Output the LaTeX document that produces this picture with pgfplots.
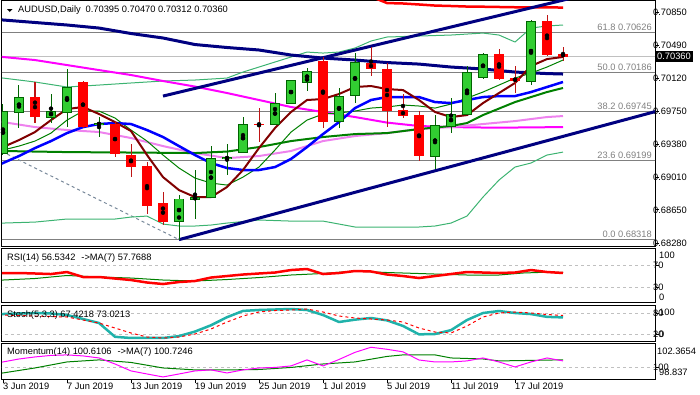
\documentclass[border=0pt]{standalone}
\usepackage{fontspec}
\setmainfont{Liberation Sans}
\usepackage{pgfplots}
\usepackage{pgfplotstable}
\pgfplotsset{compat=1.18}
\definecolor{bullfill}{RGB}{50,205,50}
\definecolor{bulldark}{RGB}{0,100,0}
\definecolor{bearfill}{RGB}{255,0,0}
\definecolor{bearwick}{RGB}{190,20,20}
\definecolor{navyc}{RGB}{0,0,128}
\definecolor{magc}{RGB}{255,0,255}
\definecolor{violetc}{RGB}{238,130,238}
\definecolor{bluec}{RGB}{0,0,255}
\definecolor{maroonc}{RGB}{128,0,0}
\definecolor{greenc}{RGB}{0,128,0}
\definecolor{seagreen}{RGB}{60,179,113}
\definecolor{tealc}{RGB}{32,178,170}
\definecolor{fibgray}{RGB}{128,128,128}
\definecolor{slatec}{RGB}{119,136,153}
\definecolor{silverc}{RGB}{192,192,192}
\newcommand{\tl}{\fontsize{9.3}{11}\selectfont}

\pgfplotstableread{
i o h l c
0 0.69284 0.69831 0.69262 0.69742
1 0.69742 0.70043 0.69563 0.69909
3 0.69686 0.69943 0.69619 0.69753
4 0.69742 0.70222 0.69574 0.70021
6 0.69602 0.69686 0.69463 0.69619
11 0.68525 0.68815 0.68318 0.68771
12 0.68771 0.69095 0.68548 0.68793
13 0.68793 0.69362 0.68782 0.69228
14 0.69223 0.69385 0.69039 0.69234
15 0.69295 0.69686 0.69284 0.69608
17 0.69608 0.69954 0.69597 0.69842
18 0.69842 0.70099 0.69831 0.70088
19 0.70077 0.70233 0.69976 0.70199
21 0.69641 0.70010 0.69563 0.69920
22 0.69931 0.70400 0.69842 0.70300
27 0.69251 0.69708 0.69106 0.69597
28 0.69586 0.69898 0.69507 0.69720
29 0.69720 0.70255 0.69708 0.70188
30 0.70132 0.70400 0.70110 0.70389
33 0.70088 0.70768 0.70043 0.70757
}\bull

\pgfplotstableread{
i o h l c
2 0.69909 0.70077 0.69619 0.69686
5 0.70077 0.70088 0.69563 0.69574
7 0.69608 0.69641 0.69240 0.69273
8 0.69262 0.69385 0.69016 0.69128
9 0.69139 0.69184 0.68603 0.68693
10 0.68726 0.68849 0.68481 0.68514
16 0.69613 0.69786 0.69407 0.69602
20 0.70311 0.70356 0.69563 0.69630
23 0.70289 0.70467 0.70144 0.70222
24 0.70222 0.70289 0.69574 0.69753
25 0.69764 0.69943 0.69675 0.69697
26 0.69708 0.69753 0.69195 0.69251
31 0.70389 0.70445 0.70105 0.70110
32 0.70121 0.70255 0.69954 0.70088
34 0.70757 0.70824 0.70367 0.70378
35 0.70395 0.70470 0.70312 0.70360
}\bear

\pgfplotsset{
  mtaxis/.style={scale only axis, width=653pt, xmin=-0.0625, xmax=40.75,
    axis line style={line width=1pt, black}, xtick=\empty,
    ytick pos=right, ytick align=outside, major tick length=4pt,
    tick style={black, line width=0.8pt},
    yticklabel style={font=\tl, anchor=west, inner sep=0pt, xshift=-6pt},
    /pgf/number format/assume math mode=true,
    scaled y ticks=false,
    every axis plot/.append style={line join=round},
    clip=true},
}

\begin{document}
\begin{tikzpicture}[x=1pt,y=1pt]
\useasboundingbox (0,0) rectangle (700,-394);

% ---------------- main price panel ----------------
\begin{axis}[mtaxis, height=246pt, at={(2pt,-246pt)}, anchor=south west,
  ymin=0.68247, ymax=0.70992,
  ytick={0.6828,0.6865,0.6901,0.6938,0.6975,0.7012,0.7049},
  extra y ticks={0.7085},
  yticklabel={\pgfmathprintnumber[fixed,precision=5,zerofill]{\tick}},
  extra y tick style={yticklabel={\pgfmathprintnumber[fixed,precision=5,zerofill]{\tick}}},
]
% fibonacci levels and current price line
\addplot[fibgray, line width=1pt, forget plot] coordinates {(-1,0.70626) (41,0.70626)};
\addplot[fibgray, line width=1pt, forget plot] coordinates {(-1,0.70186) (41,0.70186)};
\addplot[fibgray, line width=1pt, forget plot] coordinates {(-1,0.69745) (41,0.69745)};
\addplot[fibgray, line width=1pt, forget plot] coordinates {(-1,0.69199) (41,0.69199)};
\addplot[fibgray, line width=1pt, forget plot] coordinates {(-1,0.68318) (41,0.68318)};
\addplot[silverc, line width=1pt, forget plot] coordinates {(-1,0.70360) (41,0.70360)};
\addplot[slatec, line width=1pt, dash pattern=on 3pt off 3pt, forget plot] coordinates {(-0.0625,0.69301) (11,0.68318)};
% bands
\addplot[seagreen, line width=1pt] coordinates {(-1,0.70140)(0,0.70121)(2,0.70077)(4,0.70021)(6,0.70043)(8,0.70066)(10,0.70088)(12,0.70099)(14,0.70121)(15,0.70188)(16,0.70244)(17,0.70300)(18,0.70356)(19,0.70411)(20,0.70400)(21,0.70411)(22,0.70456)(23,0.70534)(24,0.70579)(26,0.70590)(28,0.70601)(30,0.70623)(31,0.70601)(32,0.70523)(33,0.70679)(34,0.70702)(35,0.70713)};
\addplot[seagreen, line width=1pt] coordinates {(-1,0.68503)(0,0.68503)(2,0.68514)(4,0.68548)(7,0.68548)(8,0.68570)(9,0.68581)(10,0.68492)(11,0.68470)(12,0.68470)(13,0.68481)(14,0.68503)(16,0.68537)(18,0.68525)(20,0.68525)(22,0.68459)(26,0.68459)(27,0.68470)(28,0.68503)(29,0.68581)(30,0.68793)(31,0.68983)(32,0.69128)(33,0.69173)(34,0.69262)(35,0.69295)};
% moving averages
\addplot[bearfill, line width=2.5pt] coordinates {(23,0.71030)(24,0.70958)(25,0.70953)(26,0.70942)(27,0.70930)(28,0.70925)(29,0.70919)(30,0.70917)(31,0.70914)(32,0.70911)(35,0.70908)};
\addplot[navyc, line width=3pt] coordinates {(-1,0.70783)(0,0.70769)(2,0.70741)(4,0.70713)(6,0.70679)(8,0.70618)(10,0.70568)(12,0.70495)(14,0.70462)(16,0.70434)(18,0.70378)(20,0.70344)(22,0.70322)(24,0.70294)(26,0.70277)(28,0.70244)(30,0.70222)(32,0.70188)(34,0.70171)(35,0.70166)};
\addplot[magc, line width=2pt] coordinates {(-1,0.70384)(0,0.70356)(2,0.70322)(4,0.70266)(6,0.70210)(8,0.70155)(10,0.70088)(12,0.70026)(14,0.69954)(16,0.69876)(18,0.69798)(20,0.69742)(22,0.69686)(24,0.69624)(26,0.69586)(28,0.69574)(30,0.69569)(32,0.69569)(35,0.69574)};
\addplot[violetc, line width=2pt] coordinates {(-1,0.69652)(0,0.69630)(2,0.69574)(4,0.69541)(6,0.69519)(8,0.69452)(10,0.69362)(12,0.69284)(14,0.69228)(16,0.69251)(18,0.69307)(20,0.69418)(22,0.69474)(24,0.69507)(26,0.69552)(28,0.69574)(30,0.69608)(32,0.69641)(34,0.69686)(35,0.69697)};
\addplot[greenc, line width=2pt] coordinates {(-1,0.69307)(0,0.69307)(4,0.69295)(8,0.69290)(12,0.69284)(14,0.69301)(16,0.69351)(18,0.69418)(20,0.69463)(22,0.69496)(24,0.69507)(26,0.69552)(28,0.69586)(29,0.69619)(30,0.69708)(32,0.69853)(34,0.69965)(35,0.70010)};
\addplot[greenc, line width=1pt] coordinates {(-1,0.69290)(0,0.69318)(1,0.69362)(2,0.69418)(3,0.69507)(4,0.69652)(5,0.69753)(6,0.69753)(7,0.69675)(8,0.69541)(9,0.69418)(10,0.69262)(11,0.69117)(12,0.69005)(13,0.68949)(14,0.68927)(15,0.69016)(16,0.69128)(17,0.69318)(18,0.69518)(19,0.69652)(20,0.69719)(21,0.69731)(22,0.69753)(23,0.69786)(24,0.69798)(25,0.69820)(26,0.69809)(27,0.69786)(28,0.69831)(29,0.69898)(30,0.69965)(31,0.70043)(32,0.70121)(33,0.70177)(34,0.70244)(35,0.70322)};
\addplot[bluec, line width=2.5pt] coordinates {(-1,0.69090)(0,0.69173)(1,0.69251)(2,0.69340)(3,0.69418)(4,0.69507)(5,0.69574)(6,0.69608)(7,0.69619)(8,0.69608)(9,0.69541)(10,0.69463)(11,0.69362)(12,0.69262)(13,0.69173)(14,0.69117)(15,0.69095)(16,0.69095)(17,0.69128)(18,0.69218)(19,0.69351)(20,0.69496)(21,0.69630)(22,0.69786)(23,0.69876)(24,0.69909)(25,0.69909)(26,0.69909)(27,0.69853)(28,0.69842)(29,0.69876)(30,0.69909)(31,0.69920)(32,0.69920)(33,0.69965)(34,0.70021)(35,0.70077)};
\addplot[maroonc, line width=2pt] coordinates {(-1,0.69270)(0,0.69351)(1,0.69429)(2,0.69519)(3,0.69652)(4,0.69775)(5,0.69798)(6,0.69720)(7,0.69630)(8,0.69530)(9,0.69262)(10,0.69016)(11,0.68871)(12,0.68793)(13,0.68793)(14,0.68905)(15,0.69095)(16,0.69340)(17,0.69563)(18,0.69742)(19,0.69876)(20,0.69887)(21,0.69943)(22,0.70021)(23,0.70032)(24,0.69998)(25,0.69987)(26,0.69876)(27,0.69742)(28,0.69686)(29,0.69708)(30,0.69842)(31,0.69954)(32,0.70066)(33,0.70255)(34,0.70333)(35,0.70356)};
% trend channel
\addplot[navyc, line width=3pt] coordinates {(10,0.69920) (36,0.71033)};
\addplot[navyc, line width=3pt] coordinates {(11,0.68318) (41,0.69758)};
% candles: wicks
\addplot[only marks, mark=none, forget plot, error bars/.cd, y dir=both, y explicit, error mark=none,
  error bar style={line width=1pt, color=bulldark}]
  table[x=i, y expr={(\thisrow{h}+\thisrow{l})/2}, y error expr={(\thisrow{h}-\thisrow{l})/2}]{\bull};
\addplot[only marks, mark=none, forget plot, error bars/.cd, y dir=both, y explicit, error mark=none,
  error bar style={line width=1pt, color=bearwick}]
  table[x=i, y expr={(\thisrow{h}+\thisrow{l})/2}, y error expr={(\thisrow{h}-\thisrow{l})/2}]{\bear};
% candles: bodies
\addplot[only marks, mark=none, forget plot, error bars/.cd, y dir=both, y explicit, error mark=none,
  error bar style={line width=10.5pt, color=bulldark}]
  table[x=i, y expr={(\thisrow{o}+\thisrow{c})/2}, y error expr={abs(\thisrow{c}-\thisrow{o})/2+0.00006}]{\bull};
\addplot[only marks, mark=none, forget plot, error bars/.cd, y dir=both, y explicit, error mark=none,
  error bar style={line width=8.5pt, color=bullfill}]
  table[x=i, y expr={(\thisrow{o}+\thisrow{c})/2}, y error expr={max(abs(\thisrow{c}-\thisrow{o})/2-0.00005,0)}]{\bull};
\addplot[only marks, mark=none, forget plot, error bars/.cd, y dir=both, y explicit, error mark=none,
  error bar style={line width=10.5pt, color=bearfill}]
  table[x=i, y expr={(\thisrow{o}+\thisrow{c})/2}, y error expr={max(abs(\thisrow{c}-\thisrow{o})/2,0.00006)}]{\bear};
% fibonacci labels
\node[font=\tl, text=fibgray, anchor=base east, inner sep=0pt] at (axis cs:40.56,0.70649) {61.8 0.70626};
\node[font=\tl, text=fibgray, anchor=base east, inner sep=0pt] at (axis cs:40.56,0.70209) {50.0 0.70186};
\node[font=\tl, text=fibgray, anchor=base east, inner sep=0pt] at (axis cs:40.56,0.69768) {38.2 0.69745};
\node[font=\tl, text=fibgray, anchor=base east, inner sep=0pt] at (axis cs:40.56,0.69222) {23.6 0.69199};
\node[font=\tl, text=fibgray, anchor=base east, inner sep=0pt] at (axis cs:40.56,0.68341) {0.0 0.68318};
\end{axis}

% ---------------- RSI ----------------
\begin{axis}[mtaxis, height=54pt, at={(2pt,-302pt)}, anchor=south west,
  ymin=2.8, ymax=102.8, ytick={30,70}]
\addplot[silverc, line width=1pt, dash pattern=on 3pt off 3pt] coordinates {(-1,70)(41,70)};
\addplot[silverc, line width=1pt, dash pattern=on 3pt off 3pt] coordinates {(-1,30)(41,30)};
\addplot[greenc, line width=1pt] coordinates {(-1,42)(0,43.5)(2,46.3)(4,51.9)(6,49.1)(8,47.2)(10,43.5)(12,41.7)(14,44.4)(16,48.1)(18,52.8)(20,55.6)(22,60.2)(24,57.4)(25,56.5)(27,54.6)(29,52.8)(31,52.8)(32.5,56.5)(34,58.0)(35,57.77)};
\addplot[bearfill, line width=2.5pt] coordinates {(-1,56.5)(0,56.5)(1,56.5)(2,55.6)(3,54.6)(4,58.3)(5,49.1)(6,49.1)(7,46.3)(8,43.5)(9,38.9)(10,36.1)(11,39.8)(12,41.7)(13,48.1)(14,50.9)(15,53.7)(16,55.6)(17,57.4)(18,62.0)(19,63.9)(20,54.6)(21,56.5)(22,60.2)(23,59.3)(24,53.7)(25,50.9)(26,47.2)(27,50.9)(28,54.6)(29,58.3)(30,57.4)(31,56.5)(32,57.4)(33,62.0)(34,58.3)(35,56.53)};
\end{axis}

% ---------------- Stochastic ----------------
\begin{axis}[mtaxis, height=36pt, at={(2pt,-341pt)}, anchor=south west,
  ymin=0, ymax=102.86, ytick={20,80}]
\addplot[silverc, line width=1pt, dash pattern=on 3pt off 3pt] coordinates {(-1,80)(41,80)};
\addplot[silverc, line width=1pt, dash pattern=on 3pt off 3pt] coordinates {(-1,20)(41,20)};
\addplot[tealc, line width=2.5pt] coordinates {(-1,76)(0,77.1)(1,78.6)(2,80)(3,78.6)(4,74.3)(5,62.9)(6,51.4)(7,12)(8,8.6)(9,8.6)(10,8.6)(11,14)(12,27)(13,45)(14,68)(15,86)(16,88.6)(17,90)(18,91.4)(19,88.6)(20,74.3)(21,54.3)(22,61)(23,65.7)(24,59)(25,43)(26,19)(27,20)(28,31)(29,60)(30,80)(31,85.7)(32,80)(33,77)(34,69)(35,67.42)};
\addplot[bearfill, line width=1pt, dash pattern=on 3pt off 3pt] coordinates {(-1,75)(0,74.3)(2,71.4)(4,68.6)(6,51.4)(7,37.1)(8,22.9)(9,11.4)(10,8.6)(11,11.4)(12,20)(13,34.3)(14,54.3)(15,71.4)(16,82.9)(17,87.1)(18,88.6)(19,91.4)(20,82.9)(21,71.4)(22,65.7)(23,62.9)(24,60)(25,54.3)(26,37.1)(27,25.7)(28,22.9)(29,42.9)(30,68.6)(31,80)(32,82.9)(33,80)(34,75.7)(35,73.02)};
\end{axis}

% ---------------- Momentum ----------------
\begin{axis}[mtaxis, height=36pt, at={(2pt,-379pt)}, anchor=south west,
  ymin=98.837, ymax=102.3654, ytick={100},
  xtick={0,4,8,12,16,20,24,28,32},
  xticklabels={3 Jun 2019,7 Jun 2019,13 Jun 2019,19 Jun 2019,25 Jun 2019,1 Jul 2019,5 Jul 2019,11 Jul 2019,17 Jul 2019},
  xtick pos=left, xtick align=outside,
  xticklabel style={font=\tl, anchor=north west, inner sep=0pt, xshift=0pt}]
\addplot[silverc, line width=1pt, dash pattern=on 3pt off 3pt] coordinates {(-1,100)(41,100)};
\addplot[greenc, line width=1pt] coordinates {(-1,99.3)(0,99.43)(2,99.92)(4,100.51)(6,100.71)(8,100.46)(10,99.92)(12,99.73)(14,99.73)(16,99.77)(18,99.97)(20,100.31)(22,100.51)(24,101.05)(25,101.2)(27,101.20)(28,100.90)(30,100.80)(31,100.61)(33,100.66)(35,100.72)};
\addplot[magc, line width=1pt] coordinates {(-1,100.3)(0,100.51)(1,100.80)(2,101.00)(3,101.15)(4,101.20)(5,101.10)(6,100.90)(7,100.31)(8,99.63)(9,99.33)(10,99.04)(11,99.33)(12,99.63)(13,99.73)(14,99.43)(15,99.73)(16,99.92)(17,99.97)(18,100.12)(19,100.71)(20,100.12)(21,100.75)(22,101.45)(23,101.95)(24,101.75)(25,101.5)(26,100.7)(27,100.51)(28,100.51)(29,100.61)(30,100.90)(31,100.51)(32,100.02)(33,100.51)(34,100.90)(35,100.61)};
\end{axis}

% ---------------- texts ----------------
\fill (7,-9) -- (12.5,-9) -- (9.75,-12) -- cycle;
\node[font=\tl, anchor=west, inner sep=0pt] at (18,-10) {AUDUSD,Daily\hspace{5pt}0.70395 0.70470 0.70312 0.70360};
\node[font=\tl, anchor=west, inner sep=0pt] at (7,-258) {RSI(14) 56.5342\hspace{6pt}->MA(7) 57.7688};
\node[font=\tl, anchor=west, inner sep=0pt] at (7,-315) {Stoch(5,3,3) 67.4218 73.0213};
\node[font=\tl, anchor=west, inner sep=0pt] at (7,-352) {Momentum(14) 100.6106\hspace{6pt}->MA(7) 100.7246};
\node[font=\tl, anchor=west, inner sep=0pt] at (659,-255) {100};
\node[font=\tl, anchor=west, inner sep=0pt] at (659,-297) {0};
\node[font=\tl, anchor=west, inner sep=0pt] at (659,-312) {100};
\node[font=\tl, anchor=west, inner sep=0pt] at (659,-334) {0};
\node[font=\tl, anchor=west, inner sep=0pt] at (657,-351) {102.3654};
\node[font=\tl, anchor=west, inner sep=0pt] at (659,-372) {98.837};
\node[font=\tl, fill=black, text=white, anchor=west, inner xsep=2pt, inner ysep=0pt, minimum height=11pt] at (655,-56.6) {0.70360};
\end{tikzpicture}
\end{document}
